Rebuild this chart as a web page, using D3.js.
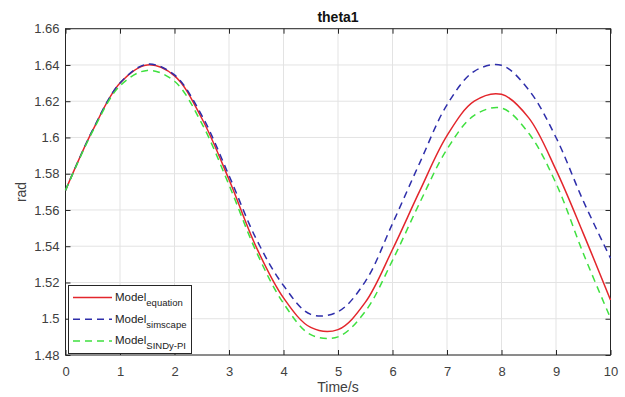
<!DOCTYPE html>
<html>
<head>
<meta charset="utf-8">
<style>
  body { margin: 0; background: #fff; }
  svg { font-family: "Liberation Sans", Arial, sans-serif; }
  .grid line { stroke: #e3e3e3; stroke-width: 1; }
  .tick text { fill: #404040; font-size: 13px; }
  .line { fill: none; stroke-width: 1.5; }
</style>
</head>
<body>
<svg id="chart" width="625" height="397"></svg>
<script src="https://d3js.org/d3.v7.min.js"></script>
<script>
// sample times (s) and the three model responses (rad)
const times = [0, 0.5, 1, 1.5, 2, 2.5, 3, 3.5, 4, 4.5, 5, 5.5, 6, 6.5, 7, 7.5, 8, 8.5, 9, 9.5, 10]
const modelEquation = [1.5708, 1.6040, 1.6300, 1.6400, 1.6340, 1.6106, 1.5768, 1.5395, 1.5115, 1.4952, 1.4940, 1.5090, 1.5382, 1.5705, 1.6010, 1.6200, 1.6238, 1.6108, 1.5821, 1.5471, 1.5103]
const modelSimscape = [1.5708, 1.6042, 1.6300, 1.6404, 1.6345, 1.6122, 1.5790, 1.5440, 1.5183, 1.5024, 1.5039, 1.5205, 1.5525, 1.5860, 1.6180, 1.6365, 1.6398, 1.6262, 1.6000, 1.5650, 1.5334]
const modelSindy = [1.5708, 1.6035, 1.6285, 1.6370, 1.6310, 1.6078, 1.5738, 1.5370, 1.5085, 1.4912, 1.4900, 1.5040, 1.5322, 1.5640, 1.5935, 1.6122, 1.6162, 1.6023, 1.5747, 1.5361, 1.5003]

const xTicks = [0, 1, 2, 3, 4, 5, 6, 7, 8, 9, 10]
const yTicks = [1.48, 1.5, 1.52, 1.54, 1.56, 1.58, 1.6, 1.62, 1.64, 1.66]

const seriesNames = ["equation", "simscape", "SINDy-PI"]
const seriesColors = ["#e3262c", "#2e2eaa", "#3fe03f"]
const seriesDash = [null, "7,5", "7,5"]

let svg = d3.select("#chart")
let plotLeft = 65.5, plotRight = 610.5, plotTop = 28.7, plotBottom = 355

let xScale = d3.scaleLinear().domain([0, 10]).range([plotLeft, plotRight])
let yScale = d3.scaleLinear().domain([1.48, 1.66]).range([plotBottom, plotTop])

// grid
svg.append("g").attr("class", "grid")
    .selectAll("line").data(xTicks).join("line")
    .attr("x1", d => xScale(d)).attr("x2", d => xScale(d))
    .attr("y1", plotTop).attr("y2", plotBottom)
svg.append("g").attr("class", "grid")
    .selectAll("line").data(yTicks).join("line")
    .attr("x1", plotLeft).attr("x2", plotRight)
    .attr("y1", d => yScale(d)).attr("y2", d => yScale(d))

// axes (ticks inward, box on)
let fmt = d => String(+d.toFixed(2))
svg.append("g").attr("transform", "translate(0," + plotBottom + ")")
    .call(d3.axisBottom(xScale).tickValues(xTicks).tickSize(-5).tickPadding(12).tickSizeOuter(0))
svg.append("g").attr("transform", "translate(0," + plotTop + ")")
    .call(d3.axisTop(xScale).tickValues(xTicks).tickSize(-5).tickFormat("").tickSizeOuter(0))
svg.append("g").attr("transform", "translate(" + plotLeft + ",0)")
    .call(d3.axisLeft(yScale).tickValues(yTicks).tickSize(-5).tickPadding(6).tickFormat(fmt).tickSizeOuter(0))
svg.append("g").attr("transform", "translate(" + plotRight + ",0)")
    .call(d3.axisRight(yScale).tickValues(yTicks).tickSize(-5).tickFormat("").tickSizeOuter(0))
svg.selectAll(".domain").remove()
svg.selectAll(".tick line").attr("stroke", "#262626")
svg.append("rect")
    .attr("x", plotLeft).attr("y", plotTop)
    .attr("width", plotRight - plotLeft).attr("height", plotBottom - plotTop)
    .attr("fill", "none").attr("stroke", "#262626").attr("stroke-width", 1)

// curves
let allSeries = [modelEquation, modelSimscape, modelSindy]
let valueLine = d3.line()
    .x((d, i) => xScale(times[i]))
    .y(d => yScale(d))
    .curve(d3.curveCatmullRom.alpha(0.5))

allSeries.forEach((s, i) => {
    svg.append("path")
        .datum(s)
        .attr("class", "line")
        .attr("d", valueLine)
        .attr("stroke", seriesColors[i])
        .attr("stroke-dasharray", seriesDash[i])
})

// labels
svg.append("text").attr("x", 338).attr("y", 21.5).attr("text-anchor", "middle")
    .attr("font-size", 14).attr("font-weight", "bold").attr("fill", "#111").text("theta1")
svg.append("text").attr("x", 338).attr("y", 392).attr("text-anchor", "middle")
    .attr("font-size", 14).attr("fill", "#404040").text("Time/s")
svg.append("text").attr("transform", "translate(26,192) rotate(-90)").attr("text-anchor", "middle")
    .attr("font-size", 14).attr("fill", "#404040").text("rad")

// legend
let legend = svg.append("g")
legend.append("rect").attr("x", 68.5).attr("y", 285.5).attr("width", 123).attr("height", 68)
    .attr("fill", "#fff").attr("stroke", "#262626").attr("stroke-width", 1)
seriesNames.forEach((name, i) => {
    let y = 297.5 + i * 21.7
    legend.append("line").attr("x1", 73).attr("x2", 112).attr("y1", y).attr("y2", y)
        .attr("stroke", seriesColors[i]).attr("stroke-width", 1.5)
        .attr("stroke-dasharray", seriesDash[i])
    let t = legend.append("text").attr("x", 115).attr("y", y + 3.5).attr("font-size", 11.5).attr("fill", "#222")
    t.append("tspan").text("Model")
    t.append("tspan").attr("dy", 5).attr("font-size", 9.5).text(name)
})
</script>
</body>
</html>
